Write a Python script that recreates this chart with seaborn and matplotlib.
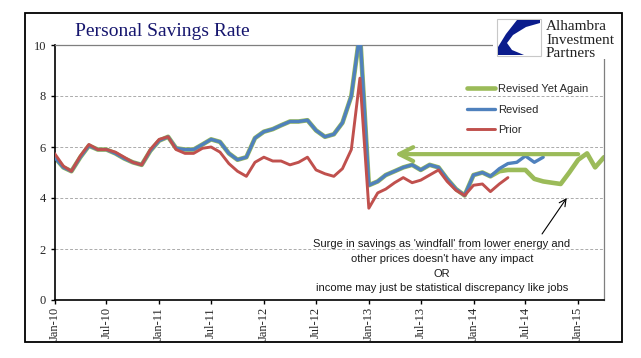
import numpy as np
import pandas as pd
import matplotlib
matplotlib.use("Agg")
import matplotlib.pyplot as plt
import matplotlib.dates as mdates
from matplotlib.patches import Rectangle, Polygon
import seaborn as sns

# monthly personal savings rate, Jan-10 .. Apr-15
dates = pd.date_range("2010-01-01", "2015-04-01", freq="MS")

common = [5.6, 5.2, 5.05, 5.6, 6.05, 5.9, 5.9, 5.75, 5.55, 5.4, 5.3, 5.85,
          6.25, 6.4, 5.95, 5.9, 5.9, 6.1, 6.3, 6.2, 5.75, 5.5, 5.6, 6.35,
          6.6, 6.7, 6.85, 7.0, 7.0, 7.05, 6.65, 6.4, 6.5, 6.95, 8.0, 10.5,
          4.5, 4.65, 4.9, 5.05, 5.2, 5.3, 5.1, 5.3, 5.2, 4.75, 4.35, 4.1,
          4.9, 5.0]
revised_tail = [4.85, 5.15, 5.35, 5.4, 5.65, 5.4, 5.6]
again_tail = [4.85, 5.05, 5.1, 5.1, 5.1, 4.75, 4.65, 4.6, 4.55, 5.0, 5.5,
              5.75, 5.2, 5.6]
revised = common + revised_tail
revised_again = common + again_tail
prior = [5.75, 5.25, 5.05, 5.65, 6.1, 5.9, 5.9, 5.8, 5.6, 5.4, 5.3, 5.9,
         6.3, 6.4, 5.9, 5.75, 5.75, 5.95, 6.0, 5.8, 5.35, 5.05, 4.85, 5.4,
         5.6, 5.45, 5.45, 5.3, 5.4, 5.6, 5.1, 4.95, 4.85, 5.15, 5.9, 8.7,
         3.6, 4.2, 4.35, 4.6, 4.8, 4.6, 4.7, 4.9, 5.1, 4.65, 4.3, 4.1,
         4.5, 4.55, 4.25, 4.55, 4.8]

green = '#9BBB59'
blue = '#4F81BD'
red = '#C0504D'
navy = '#16166E'

sns.set_style("white")
plt.rcParams['font.family'] = ['Liberation Serif', 'DejaVu Serif']

W, H = 641, 358
fig = plt.figure(figsize=(W / 100, H / 100), dpi=100)
ax = fig.add_axes([54.5 / W, 1 - 300 / H, (604 - 54.5) / W, 255 / H])

sns.lineplot(x=dates[:len(revised_again)], y=revised_again, color=green, lw=3.3,
             label="Revised Yet Again", ax=ax, zorder=2)
sns.lineplot(x=dates[:len(revised)], y=revised, color=blue, lw=2.4,
             label="Revised", ax=ax, zorder=3)
sns.lineplot(x=dates[:len(prior)], y=prior, color=red, lw=2.1,
             label="Prior", ax=ax, zorder=4)

ax.set_xlim(dates[0], dates[-1])
ax.set_ylim(0, 10)
ax.set_yticks([0, 2, 4, 6, 8, 10])
ax.yaxis.grid(True, linestyle=(0, (3, 2)), color='#ABABAB', lw=0.7)
ax.xaxis.set_major_locator(mdates.MonthLocator(bymonth=[1, 7]))
ax.xaxis.set_major_formatter(mdates.DateFormatter('%b-%y'))
ax.tick_params(axis='x', labelrotation=90, labelsize=9, length=3, width=1, color='black', pad=2)
ax.tick_params(axis='y', labelsize=9, length=3, width=1, color='black', pad=3)
ax.tick_params(bottom=True, left=True)
ax.set_xlabel("")
ax.set_ylabel("")
for s in ['left', 'bottom']:
    ax.spines[s].set_color('black')
    ax.spines[s].set_linewidth(1.2)
for s in ['top', 'right']:
    ax.spines[s].set_color('#7F7F7F')
    ax.spines[s].set_linewidth(0.9)

# legend
handles, labels = ax.get_legend_handles_labels()
leg = ax.legend(handles, labels, loc='upper left', frameon=False,
                bbox_to_anchor=((467 - 54.5) / 549.5, (300 - 84) / 255),
                borderpad=0, borderaxespad=0, handlelength=2.5,
                handletextpad=0.3, labelspacing=0.95,
                prop={'family': 'Liberation Sans', 'size': 8})

# arrows
ax.annotate('', xy=(pd.Timestamp('2013-04-01'), 5.72), xytext=(pd.Timestamp('2015-01-01'), 5.72),
            arrowprops=dict(arrowstyle='->,head_length=1.0,head_width=0.5', color=green,
                            lw=3, shrinkA=0, shrinkB=0), zorder=5)
ax.annotate('', xy=(pd.Timestamp('2014-11-22'), 4.0), xytext=(pd.Timestamp('2014-08-28'), 2.59),
            arrowprops=dict(arrowstyle='->,head_length=0.5,head_width=0.25', color='black',
                            lw=0.8, shrinkA=0, shrinkB=0))

# annotation text
note = ["Surge in savings as 'windfall' from lower energy and",
        "other prices doesn't have any impact",
        "OR",
        "income may just be statistical discrepancy like jobs"]
note_y = [2.2, 1.61, 1.02, 0.47]
for line, yv in zip(note, note_y):
    ax.text(pd.Timestamp('2013-09-13'), yv, line, ha='center', va='center', fontsize=8,
            family='Liberation Sans', color='#1A1A1A')

# title
fig.text(75 / W, 1 - 32 / H, "Personal Savings Rate", ha='left', va='center',
         fontsize=14, color=navy, family='Liberation Serif')

# logo
lax = fig.add_axes([493 / W, 1 - 59 / H, 128 / W, 45 / H], zorder=10)
lax.set_xlim(493, 621)
lax.set_ylim(59, 14)
lax.axis('off')
lax.add_patch(Rectangle((493, 14), 128, 45, facecolor='white', edgecolor='none'))
lax.add_patch(Rectangle((497, 19), 44, 37, facecolor='white', edgecolor='#C8C8C8', lw=0.8))
lax.add_patch(Polygon([(517, 20), (540, 20), (540, 23), (526, 27), (513, 35), (507, 43),
                       (512, 50), (524, 55), (498, 55), (498, 47), (506, 34)],
                      closed=True, facecolor='#0B1C8C', edgecolor='none'))
for t, yy in zip(["Alhambra", "Investment", "Partners"], [26.5, 40, 53.5]):
    lax.text(546, yy, t, ha='left', va='center', fontsize=11, color='#202020',
             family='Liberation Serif')

# outer frame
fig.patches.append(Rectangle((25 / W, 1 - 342 / H), 597 / W, 329 / H, transform=fig.transFigure,
                             fill=False, edgecolor='black', lw=1.3))

fig.savefig("out.png", dpi=100)
